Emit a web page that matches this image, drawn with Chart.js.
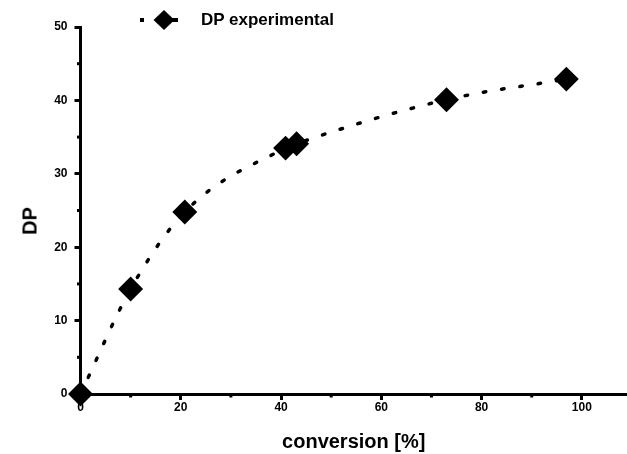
<!DOCTYPE html>
<html>
<head>
<meta charset="utf-8">
<script src="https://cdn.jsdelivr.net/npm/chart.js@4"></script>
<style>
  html, body { margin: 0; padding: 0; background: #fff; overflow: hidden; }
  #wrap { position: relative; width: 627px; height: 454px; }
  #chart { display: block; }
  #legend { position: absolute; left: 137px; top: 8px; display: flex; align-items: center;
            font: bold 17px "Liberation Sans", Arial, sans-serif; color: #000; }
  #legend canvas { margin-right: 11px; }
  #ytitle { position: absolute; left: 30px; top: 221px; transform: translate(-50%, -50%) rotate(-90deg);
            font: bold 20px "Liberation Sans", Arial, sans-serif; color: #000; white-space: nowrap; }
</style>
</head>
<body>
<div id="wrap">
  <canvas id="chart" width="627" height="454"></canvas>
  <div id="legend"><canvas id="sym" width="53" height="24"></canvas><span id="legtext"></span></div>
  <div id="ytitle"></div>
</div>
<script>
// conversion [%] vs DP
const conversion = [0, 10, 20.8, 40.9, 43.1, 73.0, 96.9];
const dpValues = [0, 14.3, 24.8, 33.5, 34.1, 40.1, 42.9];
const seriesLabel = 'DP experimental';
const xTitle = 'conversion [%]';
const yTitle = 'DP';

const FONT = '"Liberation Sans", Arial, sans-serif';

document.getElementById('legtext').textContent = seriesLabel;
document.getElementById('ytitle').textContent = yTitle;

// legend symbol: dotted line with diamond
const s = document.getElementById('sym').getContext('2d');
s.fillStyle = '#000';
s.fillRect(3, 10, 4, 4);
s.beginPath();
s.moveTo(27, 2); s.lineTo(37.5, 12); s.lineTo(27, 22); s.lineTo(16.5, 12); s.closePath();
s.fill();
s.fillRect(35, 10, 6, 4);

// short minor ticks drawn on top of the scales
const minorTicks = {
  id: 'minorTicks',
  afterDraw(chart) {
    const ctx = chart.ctx;
    const xs = chart.scales.x, ys = chart.scales.y;
    ctx.save();
    ctx.strokeStyle = '#000';
    ctx.lineWidth = 3;
    xs.ticks.forEach(t => {
      if (t.value % 20 !== 0) {
        const px = xs.getPixelForValue(t.value);
        ctx.beginPath(); ctx.moveTo(px, xs.top); ctx.lineTo(px, xs.top + 3.5); ctx.stroke();
      }
    });
    ys.ticks.forEach(t => {
      if (t.value % 10 !== 0) {
        const py = ys.getPixelForValue(t.value);
        ctx.beginPath(); ctx.moveTo(ys.right, py); ctx.lineTo(ys.right - 3.5, py); ctx.stroke();
      }
    });
    ctx.restore();
  }
};

new Chart(document.getElementById('chart'), {
  type: 'scatter',
  data: {
    datasets: [{
      label: seriesLabel,
      data: conversion.map((x, i) => ({ x, y: dpValues[i] })),
      showLine: true,
      cubicInterpolationMode: 'monotone',
      borderColor: '#000',
      borderWidth: 3.5,
      borderDash: [2.5, 16],
      borderCapStyle: 'round',
      pointStyle: 'rectRot',
      pointRadius: 10,
      pointHoverRadius: 10,
      pointBackgroundColor: '#000',
      pointBorderColor: '#000',
      clip: false
    }]
  },
  options: {
    responsive: false,
    animation: false,
    layout: { autoPadding: false, padding: { top: 27, right: 0, left: 0, bottom: 0 } },
    plugins: { legend: { display: false }, tooltip: { enabled: false } },
    scales: {
      x: {
        type: 'linear',
        min: 0,
        max: 109,
        afterBuildTicks: sc => { sc.ticks = sc.ticks.filter(t => t.value % 10 === 0 && t.value <= 100); },
        afterFit: sc => { sc.height = 60; sc.paddingLeft = 0; sc.paddingRight = 0; },
        ticks: {
          stepSize: 10,
          autoSkip: false,
          maxRotation: 0,
          padding: 0,
          color: '#000',
          font: { family: FONT, size: 12, weight: 'bold' },
          callback: v => (v % 20 === 0 ? v : '')
        },
        grid: {
          drawOnChartArea: false,
          tickLength: 6,
          tickWidth: 3,
          tickColor: c => (c.tick && c.tick.value % 20 === 0 ? '#000' : 'rgba(0,0,0,0)')
        },
        border: { color: '#000', width: 3 },
        title: {
          display: true,
          text: xTitle,
          color: '#000',
          font: { family: FONT, size: 20, weight: 'bold' },
          padding: { top: 12, bottom: 0 }
        }
      },
      y: {
        min: 0,
        max: 50,
        afterBuildTicks: sc => { sc.ticks = sc.ticks.filter(t => t.value % 5 === 0); },
        afterFit: sc => { sc.width = 80.5; },
        ticks: {
          stepSize: 5,
          autoSkip: false,
          padding: 7,
          color: '#000',
          font: { family: FONT, size: 12, weight: 'bold' },
          callback: v => (v % 10 === 0 ? v : '')
        },
        grid: {
          drawOnChartArea: false,
          tickLength: 6,
          tickWidth: 3,
          tickColor: c => (c.tick && c.tick.value % 10 === 0 ? '#000' : 'rgba(0,0,0,0)')
        },
        border: { color: '#000', width: 3 },
        title: { display: false }
      }
    }
  },
  plugins: [minorTicks]
});
</script>
</body>
</html>
